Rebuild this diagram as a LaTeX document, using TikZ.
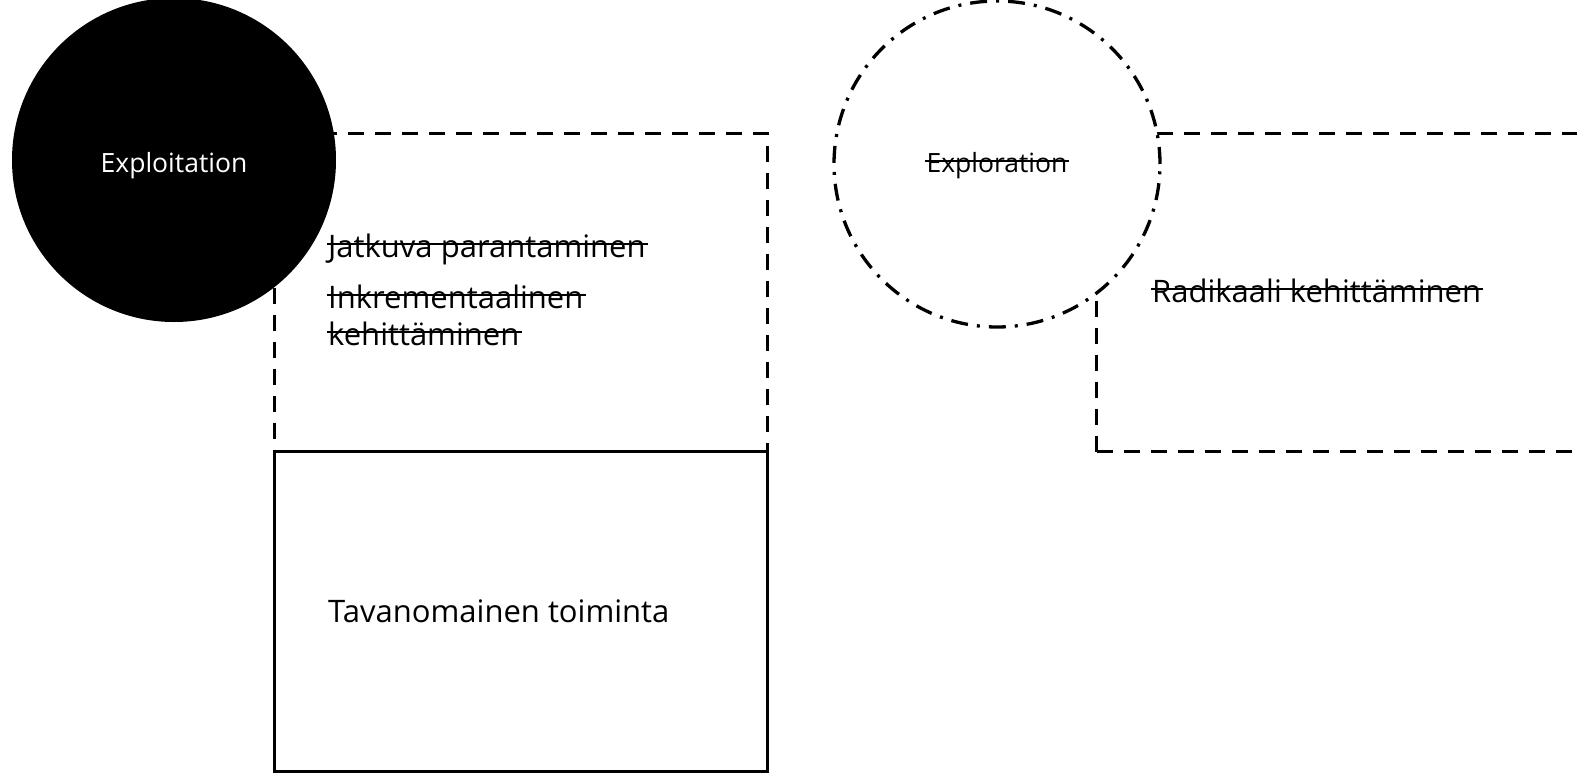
\documentclass[tikz,border=0pt]{standalone}
\usepackage{fontspec}
\setmainfont{Open Sans}
\begin{document}
\begin{tikzpicture}[x=1pt,y=-1pt,
  dbox/.style={draw, line width=3.3pt, dash pattern=on 16pt off 11pt, inner sep=0pt, anchor=north west},
  sbox/.style={draw, line width=3.3pt, inner sep=0pt, anchor=north west, fill=white},
  bigtxt/.style={inner sep=0pt, anchor=base west, font=\fontsize{31}{37}\selectfont},
  smalltxt/.style={inner sep=0pt, anchor=base, font=\fontsize{26.5}{32}\selectfont},
  strike/.style={line width=1.5pt}]
\useasboundingbox (0,0) rectangle (1577,772);
\clip (0,0) rectangle (1577,772);
% boxes
\node[dbox, minimum width=493pt, minimum height=318pt] (box1) at (273,132) {};
\node[dbox, minimum width=500pt, minimum height=318pt] (box2) at (1095,132) {};
\node[sbox, minimum width=493pt, minimum height=320pt] (box3) at (273,450) {};
% circles
\node[circle, fill=black, minimum size=324pt, inner sep=0pt] (exploit) at (174,160) {};
\node[circle, draw, fill=white, line width=3.3pt, dash pattern=on 17pt off 9pt on 3pt off 9pt, minimum size=326pt, inner sep=0pt] (explore) at (997,164) {};
% texts
\node[smalltxt, text=white] (t0) at (174,172) {Exploitation};
\node[smalltxt] (t5) at (997,172) {Exploration};
\node[bigtxt] (t1) at (328,257) {Jatkuva parantaminen};
\node[bigtxt] (t2) at (328,308) {Inkrementaalinen};
\node[bigtxt] (t3) at (328,345) {kehittäminen};
\node[bigtxt] (t4) at (1152,302) {Radikaali kehittäminen};
\node[bigtxt] (t6) at (328,622) {Tavanomainen toiminta};
% strike-throughs
\foreach \n in {t1,t2,t3,t4}{
  \draw[strike] ([xshift=-1pt,yshift=13pt]\n.base west) -- ([xshift=2pt,yshift=13pt]\n.base east);
}
\draw[strike] ([xshift=-1pt,yshift=11pt]t5.base west) -- ([xshift=1pt,yshift=11pt]t5.base east);
\end{tikzpicture}
\end{document}
